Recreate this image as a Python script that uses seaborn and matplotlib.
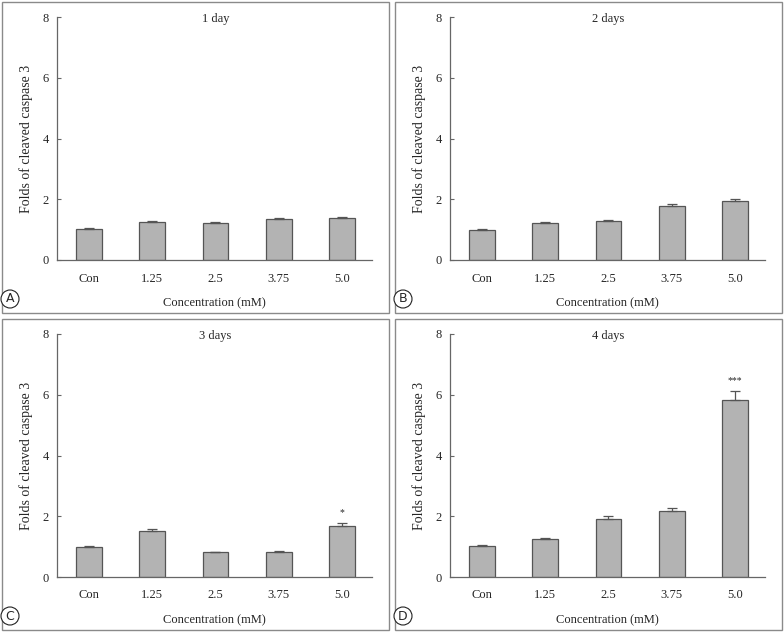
#Import the libraries : Pandas, Matplotlib and Seaborn
import pandas as pd
import matplotlib.pyplot as plt
from matplotlib.patches import Rectangle
import seaborn as sns

#Data
categories = ["Con", "1.25", "2.5", "3.75", "5.0"]
titles = ["1 day", "2 days", "3 days", "4 days"]
panel_letters = ["A", "B", "C", "D"]

day1_mean = [1.03, 1.24, 1.23, 1.34, 1.38]
day1_err = [0.02, 0.05, 0.03, 0.05, 0.04]
day2_mean = [1.00, 1.22, 1.27, 1.78, 1.94]
day2_err = [0.03, 0.03, 0.05, 0.07, 0.08]
day3_mean = [1.00, 1.53, 0.81, 0.83, 1.69]
day3_err = [0.03, 0.06, 0.02, 0.03, 0.09]
day4_mean = [1.03, 1.25, 1.92, 2.18, 5.84]
day4_err = [0.02, 0.05, 0.09, 0.10, 0.27]

# significance marks: (panel index, category index, label)
stars = [(2, 4, "*"), (3, 4, "***")]

means = [day1_mean, day2_mean, day3_mean, day4_mean]
errs = [day1_err, day2_err, day3_err, day4_err]

sns.set_style("white")
plt.rcParams['font.family'] = ['Liberation Serif', 'DejaVu Serif']

W, H = 784, 634
fig = plt.figure(figsize=(W / 100, H / 100), dpi=100)

#Panel geometry in pixels (left, top) of each panel box
offsets = [(0, 0), (393, 0), (0, 317), (393, 317)]

for i, (ox, oy) in enumerate(offsets):
	#Grey box around the panel
	fig.patches.append(Rectangle(((ox + 1.5) / W, 1 - (oy + 313) / H),
		387 / W, 311 / H, transform=fig.transFigure,
		fill=False, edgecolor="#8a8a8a", linewidth=1.0))

	ax = fig.add_axes([(ox + 57) / W, 1 - (oy + 260) / H, 315 / W, 243 / H])
	df = pd.DataFrame({"conc": categories, "value": means[i]})
	sns.barplot(data=df, x="conc", y="value", order=categories, ax=ax,
		color="#b3b3b3", saturation=1, width=0.41,
		edgecolor="#555555", linewidth=0.9, errorbar=None)
	ax.errorbar(range(len(categories)), means[i],
		yerr=[[0] * len(categories), errs[i]], fmt="none",
		ecolor="#555555", elinewidth=0.9, capsize=3.3, capthick=0.9)

	ax.set_xlim(-0.51, 4.48)
	ax.set_ylim(0, 8)
	ax.set_yticks([0, 2, 4, 6, 8])
	for side in ["top", "right"]:
		ax.spines[side].set_visible(False)
	for side in ["left", "bottom"]:
		ax.spines[side].set_color("#666666")
		ax.spines[side].set_linewidth(0.9)
	ax.tick_params(axis="y", direction="in", length=3, width=0.8,
		color="#666666", left=True, pad=6, labelsize=9)
	ax.tick_params(axis="x", length=0, pad=9, labelsize=9)
	ax.set_xlabel("Concentration (mM)", fontsize=9, labelpad=9)
	ax.set_ylabel("Folds of cleaved caspase 3", fontsize=10, labelpad=7)
	ax.text(2, 7.93, titles[i], ha="center", va="center", fontsize=9)

	for p, c, label in stars:
		if p == i:
			ax.text(c, means[i][c] + errs[i][c] + 0.35, label,
				ha="center", va="center", fontsize=7)

	#Circled panel letter
	fig.text((ox + 10) / W, 1 - (oy + 299) / H, panel_letters[i],
		ha="center", va="center", fontsize=9, family="DejaVu Sans",
		bbox=dict(boxstyle="circle,pad=0.2", fc="white", ec="#222222", lw=0.8))

fig.savefig("out.png", dpi=100)
